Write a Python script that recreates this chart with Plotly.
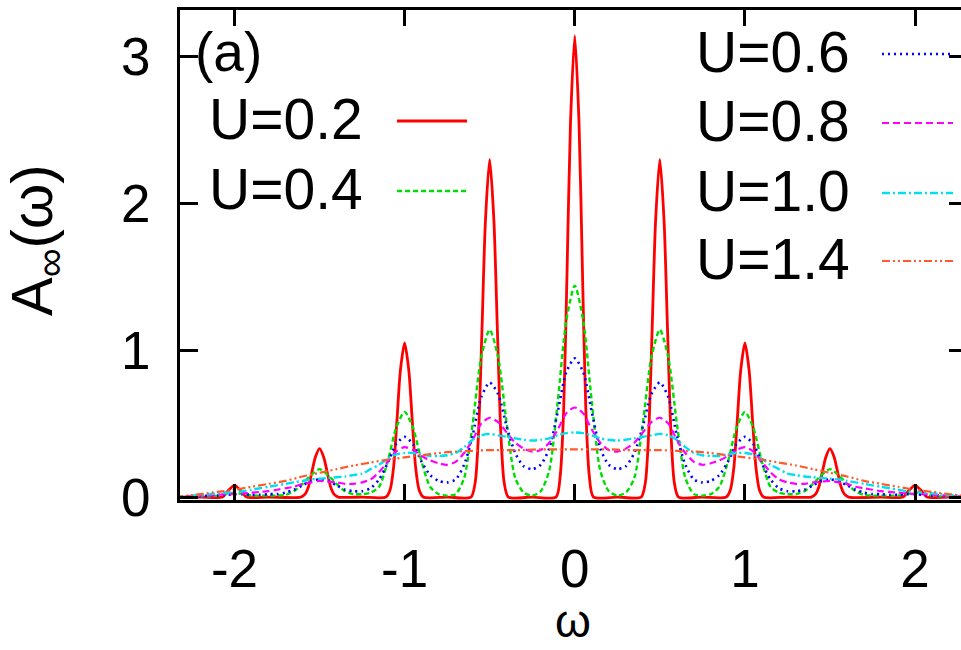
import plotly.graph_objects as go

# ---------------- data ----------------
labels = ["U=0.2", "U=0.4", "U=0.6", "U=0.8", "U=1.0", "U=1.4"]

# U=0.2 : sharp peaks at multiples of 0.5
red_x = [-2.35, -2.2, -2.07, -2.04, -2.0, -1.96, -1.93, -1.8,
         -1.61, -1.585, -1.565, -1.545, -1.525, -1.5, -1.475, -1.455, -1.435, -1.415, -1.39, -1.25,
         -1.11, -1.085, -1.065, -1.045, -1.025, -1.0, -0.975, -0.955, -0.935, -0.915, -0.89, -0.75,
         -0.61, -0.585, -0.565, -0.545, -0.525, -0.5, -0.475, -0.455, -0.435, -0.415, -0.39, -0.25,
         -0.11, -0.085, -0.065, -0.045, -0.025, 0.0, 0.025, 0.045, 0.065, 0.085, 0.11,
         0.25, 0.39, 0.415, 0.435, 0.455, 0.475, 0.5, 0.525, 0.545, 0.565, 0.585, 0.61,
         0.75, 0.89, 0.915, 0.935, 0.955, 0.975, 1.0, 1.025, 1.045, 1.065, 1.085, 1.11,
         1.25, 1.39, 1.415, 1.435, 1.455, 1.475, 1.5, 1.525, 1.545, 1.565, 1.585, 1.61,
         1.8, 1.93, 1.96, 2.0, 2.04, 2.07, 2.2, 2.35]
red_y = [0.0, 0.0, 0.0, 0.04, 0.08, 0.04, 0.0, 0.0,
         0.0, 0.02, 0.07, 0.17, 0.27, 0.33, 0.27, 0.17, 0.07, 0.02, 0.0, 0.0,
         0.0, 0.05, 0.2, 0.52, 0.86, 1.05, 0.86, 0.52, 0.2, 0.05, 0.0, 0.0,
         0.0, 0.1, 0.45, 1.15, 1.88, 2.30, 1.88, 1.15, 0.45, 0.1, 0.0, 0.0,
         0.0, 0.15, 0.6, 1.55, 2.55, 3.14, 2.55, 1.55, 0.6, 0.15, 0.0,
         0.0, 0.0, 0.1, 0.45, 1.15, 1.88, 2.30, 1.88, 1.15, 0.45, 0.1, 0.0,
         0.0, 0.0, 0.05, 0.2, 0.52, 0.86, 1.05, 0.86, 0.52, 0.2, 0.05, 0.0,
         0.0, 0.0, 0.02, 0.07, 0.17, 0.27, 0.33, 0.27, 0.17, 0.07, 0.02, 0.0,
         0.0, 0.0, 0.04, 0.08, 0.04, 0.0, 0.0, 0.0]

# common omega grid for the broader curves
omega = [-2.35, -2.3, -2.25, -2.2, -2.15, -2.1, -2.05, -2.0, -1.95, -1.9, -1.85, -1.8,
         -1.75, -1.7, -1.65, -1.6, -1.55, -1.5, -1.45, -1.4, -1.35, -1.3, -1.25, -1.2,
         -1.15, -1.1, -1.05, -1.0, -0.95, -0.9, -0.85, -0.8, -0.75, -0.7, -0.65, -0.6,
         -0.55, -0.5, -0.45, -0.4, -0.35, -0.3, -0.25, -0.2, -0.15, -0.1, -0.05, 0.0,
         0.05, 0.1, 0.15, 0.2, 0.25, 0.3, 0.35, 0.4, 0.45, 0.5, 0.55, 0.6,
         0.65, 0.7, 0.75, 0.8, 0.85, 0.9, 0.95, 1.0, 1.05, 1.1, 1.15, 1.2,
         1.25, 1.3, 1.35, 1.4, 1.45, 1.5, 1.55, 1.6, 1.65, 1.7, 1.75, 1.8,
         1.85, 1.9, 1.95, 2.0, 2.05, 2.1, 2.15, 2.2, 2.25, 2.3, 2.35]

green_y = [0.0, 0.0, 0.0, 0.005, 0.005, 0.01, 0.02, 0.03, 0.02, 0.01, 0.01, 0.01,
           0.01, 0.015, 0.04, 0.09, 0.15, 0.19, 0.15, 0.09, 0.04, 0.02, 0.02, 0.03,
           0.07, 0.24, 0.47, 0.58, 0.47, 0.24, 0.07, 0.02, 0.01, 0.02, 0.13, 0.5,
           0.95, 1.14, 0.95, 0.5, 0.13, 0.03, 0.01, 0.04, 0.18, 0.65, 1.2, 1.44,
           1.2, 0.65, 0.18, 0.04, 0.01, 0.03, 0.13, 0.5, 0.95, 1.14, 0.95, 0.5,
           0.13, 0.02, 0.01, 0.02, 0.07, 0.24, 0.47, 0.58, 0.47, 0.24, 0.07, 0.03,
           0.02, 0.02, 0.04, 0.09, 0.15, 0.19, 0.15, 0.09, 0.04, 0.015, 0.01, 0.01,
           0.01, 0.01, 0.02, 0.03, 0.02, 0.01, 0.005, 0.005, 0.0, 0.0, 0.0]

blue_y = [0.0, 0.0, 0.005, 0.005, 0.01, 0.01, 0.015, 0.02, 0.02, 0.015, 0.015, 0.02,
          0.02, 0.03, 0.05, 0.08, 0.11, 0.12, 0.11, 0.08, 0.05, 0.04, 0.04, 0.06,
          0.12, 0.23, 0.36, 0.41, 0.36, 0.24, 0.15, 0.11, 0.10, 0.12, 0.22, 0.42,
          0.68, 0.78, 0.70, 0.48, 0.30, 0.21, 0.19, 0.22, 0.33, 0.58, 0.85, 0.945,
          0.85, 0.58, 0.33, 0.22, 0.19, 0.21, 0.30, 0.48, 0.70, 0.78, 0.68, 0.42,
          0.22, 0.12, 0.10, 0.11, 0.15, 0.24, 0.36, 0.41, 0.36, 0.23, 0.12, 0.06,
          0.04, 0.04, 0.05, 0.08, 0.11, 0.12, 0.11, 0.08, 0.05, 0.03, 0.02, 0.02,
          0.015, 0.015, 0.02, 0.02, 0.015, 0.01, 0.01, 0.005, 0.005, 0.0, 0.0]

magenta_y = [0.0, 0.005, 0.005, 0.01, 0.01, 0.015, 0.02, 0.02, 0.025, 0.03, 0.035, 0.04,
             0.05, 0.06, 0.07, 0.09, 0.10, 0.11, 0.105, 0.10, 0.09, 0.09, 0.10, 0.12,
             0.17, 0.24, 0.31, 0.34, 0.32, 0.28, 0.25, 0.23, 0.22, 0.24, 0.30, 0.39,
             0.50, 0.54, 0.51, 0.44, 0.37, 0.33, 0.31, 0.32, 0.37, 0.46, 0.57, 0.61,
             0.57, 0.46, 0.37, 0.32, 0.31, 0.33, 0.37, 0.44, 0.51, 0.54, 0.50, 0.39,
             0.30, 0.24, 0.22, 0.23, 0.25, 0.28, 0.32, 0.34, 0.31, 0.24, 0.17, 0.12,
             0.10, 0.09, 0.09, 0.10, 0.105, 0.11, 0.10, 0.09, 0.07, 0.06, 0.05, 0.04,
             0.035, 0.03, 0.025, 0.02, 0.02, 0.015, 0.01, 0.01, 0.005, 0.005, 0.0]

cyan_y = [0.0, 0.005, 0.01, 0.015, 0.02, 0.025, 0.03, 0.035, 0.04, 0.05, 0.06, 0.07,
          0.08, 0.09, 0.10, 0.11, 0.12, 0.125, 0.13, 0.135, 0.14, 0.15, 0.16, 0.19,
          0.22, 0.26, 0.29, 0.30, 0.30, 0.29, 0.28, 0.28, 0.285, 0.30, 0.34, 0.39,
          0.42, 0.43, 0.42, 0.41, 0.40, 0.39, 0.385, 0.39, 0.40, 0.42, 0.435, 0.44,
          0.435, 0.42, 0.40, 0.39, 0.385, 0.39, 0.40, 0.41, 0.42, 0.43, 0.42, 0.39,
          0.34, 0.30, 0.285, 0.28, 0.28, 0.29, 0.30, 0.30, 0.29, 0.26, 0.22, 0.19,
          0.16, 0.15, 0.14, 0.135, 0.13, 0.125, 0.12, 0.11, 0.10, 0.09, 0.08, 0.07,
          0.06, 0.05, 0.04, 0.035, 0.03, 0.025, 0.02, 0.015, 0.01, 0.005, 0.0]

orange_x = [-2.35, -2.2, -2.1, -2.0, -1.9, -1.8, -1.7, -1.6, -1.5, -1.4, -1.3, -1.2,
            -1.1, -1.0, -0.9, -0.8, -0.7, -0.6, -0.5, -0.4, -0.3, -0.2, -0.1, 0.0,
            0.1, 0.2, 0.3, 0.4, 0.5, 0.6, 0.7, 0.8, 0.9, 1.0, 1.1, 1.2,
            1.3, 1.4, 1.5, 1.6, 1.7, 1.8, 1.9, 2.0, 2.1, 2.2, 2.35]
orange_y = [0.0, 0.02, 0.035, 0.05, 0.07, 0.09, 0.11, 0.14, 0.165, 0.19, 0.215, 0.235,
            0.255, 0.27, 0.285, 0.30, 0.31, 0.315, 0.32, 0.32, 0.32, 0.325, 0.325, 0.325,
            0.325, 0.325, 0.32, 0.32, 0.32, 0.315, 0.31, 0.30, 0.285, 0.27, 0.255, 0.235,
            0.215, 0.19, 0.165, 0.14, 0.11, 0.09, 0.07, 0.05, 0.035, 0.02, 0.0]

x_ticks = [-2, -1, 0, 1, 2]
y_ticks = [0, 1, 2, 3]

# ---------------- styles ----------------
FONT = "Liberation Sans, Arial, Helvetica, sans-serif"
colors = ["#ff0000", "#00dd00", "#0000ff", "#ff00ff", "#00e0f0", "#ff5a2a"]
dashes = ["solid", "5px,3px", "2px,4px", "7px,4px", "8px,3px,2px,3px", "8px,3px,2px,3px,2px,3px"]
widths = [2.8, 2.4, 2.6, 2.2, 2.4, 2.2]

series = [(red_x, red_y), (omega, green_y), (omega, blue_y),
          (omega, magenta_y), (omega, cyan_y), (orange_x, orange_y)]

fig = go.Figure()
for i, ((xs, ys), lab) in enumerate(zip(series, labels)):
    fig.add_trace(go.Scatter(
        x=xs, y=ys, mode="lines", name=lab, showlegend=False,
        line=dict(color=colors[i], width=widths[i], dash=dashes[i],
                  shape="spline", smoothing=0.7),
        yaxis="y2" if i == 5 else "y",
    ))

W, H = 961, 650
ML, MT, MR, MB = 180, 10, 0, 150
PW, PH = W - ML - MR, H - MT - MB

def px2paper(px, py):
    return (px - ML) / PW, (H - MB - py) / PH

annotations = []
shapes = []

# manual key: text on the left, sample on the right
key_rows = [
    # label index, text-left px, row-center px, line x0, line x1
    (0, 207, 119, 397, 467),
    (1, 207, 189, 397, 467),
    (2, 694, 52, 882, 953),
    (3, 694, 121, 882, 953),
    (4, 694, 191, 882, 953),
    (5, 694, 259, 882, 953),
]
for idx, tx, ty, lx0, lx1 in key_rows:
    ax, ay = px2paper(tx, ty)
    annotations.append(dict(xref="paper", yref="paper", x=ax, y=ay, text=labels[idx],
                            showarrow=False, xanchor="left", yanchor="middle",
                            font=dict(family=FONT, size=57, color="black")))
    x0, y0 = px2paper(lx0, ty + 2)
    x1, _ = px2paper(lx1, ty + 2)
    shapes.append(dict(type="line", xref="paper", yref="paper", x0=x0, x1=x1, y0=y0, y1=y0,
                       line=dict(color=colors[idx], width=widths[idx], dash=dashes[idx])))

# panel label
ax, ay = px2paper(193, 52)
annotations.append(dict(xref="paper", yref="paper", x=ax, y=ay, text="(a)", showarrow=False,
                        xanchor="left", yanchor="middle",
                        font=dict(family=FONT, size=55, color="black")))
# axis titles
ax, ay = px2paper(36, 240)
annotations.append(dict(xref="paper", yref="paper", x=ax, y=ay, text="A<sub>∞</sub>(ω)",
                        showarrow=False, textangle=-90, xanchor="center", yanchor="middle",
                        font=dict(family=FONT, size=58, color="black")))
ax, ay = px2paper(573, 649)
annotations.append(dict(xref="paper", yref="paper", x=ax, y=ay, text="ω",
                        showarrow=False, xanchor="center", yanchor="bottom",
                        font=dict(family=FONT, size=46, color="black")))

YR = [-0.02, 3.317]
fig.update_layout(
    width=W, height=H,
    margin=dict(l=ML, r=MR, t=MT, b=MB, pad=0),
    paper_bgcolor="white", plot_bgcolor="white",
    showlegend=False,
    annotations=annotations, shapes=shapes,
    xaxis=dict(range=[-2.32, 2.27], tickvals=x_ticks, ticktext=[str(v) for v in x_ticks],
               ticks="inside", ticklen=16, tickwidth=3, tickcolor="black",
               showline=True, linecolor="black", linewidth=3, mirror="ticks",
               showgrid=False, zeroline=False, ticklabelstandoff=20,
               tickfont=dict(family=FONT, size=53, color="black")),
    yaxis=dict(range=YR, tickvals=y_ticks, ticktext=[str(v) for v in y_ticks],
               ticks="inside", ticklen=18, tickwidth=3, tickcolor="black",
               showline=True, linecolor="black", linewidth=3, mirror=False,
               showgrid=False, zeroline=False, ticklabelstandoff=16,
               tickfont=dict(family=FONT, size=53, color="black")),
    yaxis2=dict(range=YR, overlaying="y", side="right", tickvals=y_ticks,
                ticks="inside", ticklen=12, tickwidth=3, tickcolor="black",
                showticklabels=False, showline=False, showgrid=False, zeroline=False),
)

fig.write_html("out.html")
